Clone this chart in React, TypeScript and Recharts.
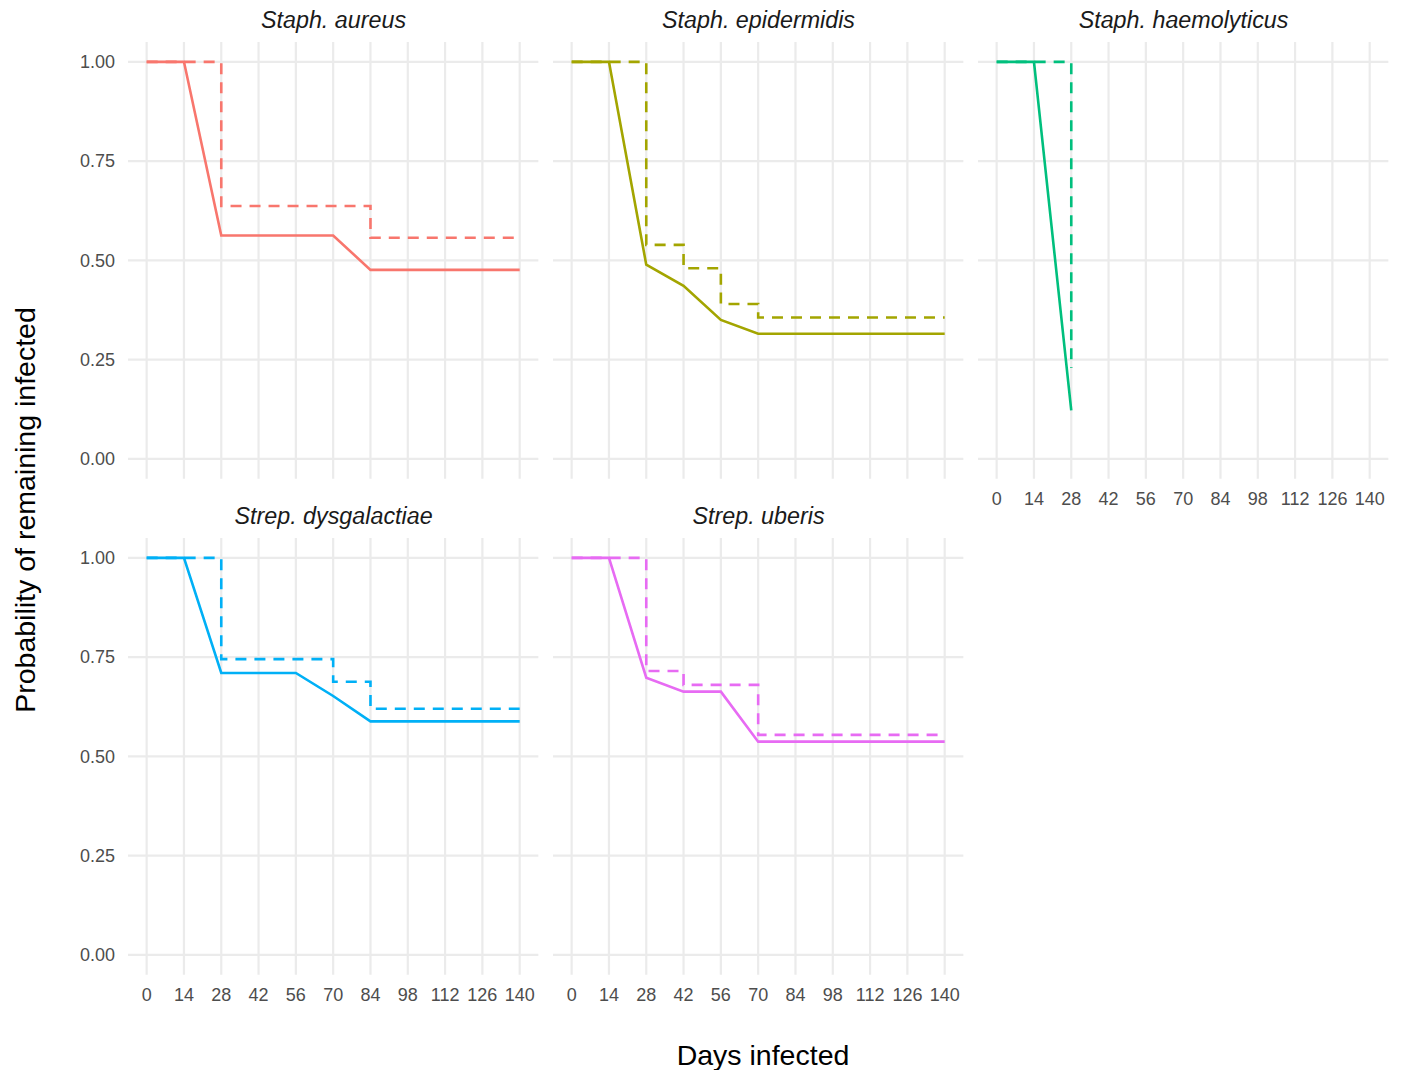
import React from 'react';
import { LineChart, Line, XAxis, YAxis, CartesianGrid } from 'recharts';

// ---- Data ----
const dayTicks = [0, 14, 28, 42, 56, 70, 84, 98, 112, 126, 140];
const probTicks = [0, 0.25, 0.5, 0.75, 1];

const panelNames = ['Staph. aureus', 'Staph. epidermidis', 'Staph. haemolyticus', 'Strep. dysgalactiae', 'Strep. uberis'];
const panelColors = ['#F8766D', '#A3A500', '#00BF7D', '#00B0F6', '#E76BF3'];

// Staph. aureus
const aureusDays = [0, 14, 28, 70, 84, 140];
const aureusSolid = [1, 1, 0.5625, 0.5625, 0.476, 0.476];
const aureusStepDays = [0, 28, 84, 140];
const aureusStep = [1, 0.637, 0.557, 0.557];

// Staph. epidermidis
const epiDays = [0, 14, 28, 42, 56, 70, 140];
const epiSolid = [1, 1, 0.489, 0.436, 0.35, 0.315, 0.315];
const epiStepDays = [0, 28, 42, 56, 70, 140];
const epiStep = [1, 0.539, 0.48, 0.39, 0.356, 0.356];

// Staph. haemolyticus
const haemDays = [0, 14, 28];
const haemSolid = [1, 1, 0.122];
const haemStepDays = [0, 28];
const haemStep = [1, 0.229];

// Strep. dysgalactiae
const dysDays = [0, 14, 28, 56, 70, 84, 140];
const dysSolid = [1, 1, 0.71, 0.71, 0.652, 0.588, 0.588];
const dysStepDays = [0, 28, 70, 84, 140];
const dysStep = [1, 0.745, 0.688, 0.62, 0.62];

// Strep. uberis
const uberDays = [0, 14, 28, 42, 56, 70, 140];
const uberSolid = [1, 1, 0.698, 0.663, 0.663, 0.537, 0.537];
const uberStepDays = [0, 28, 42, 70, 140];
const uberStep = [1, 0.715, 0.68, 0.554, 0.554];

const solidDays = [aureusDays, epiDays, haemDays, dysDays, uberDays];
const solidVals = [aureusSolid, epiSolid, haemSolid, dysSolid, uberSolid];
const stepDays = [aureusStepDays, epiStepDays, haemStepDays, dysStepDays, uberStepDays];
const stepVals = [aureusStep, epiStep, haemStep, dysStep, uberStep];

const toPoints = (days: number[], vals: number[]) => days.map((d, i) => ({ day: d, p: vals[i] }));

// ---- Layout ----
const FONT = '"Liberation Sans", Arial, Helvetica, sans-serif';
const X_DOMAIN: [number, number] = [-7, 147];
const Y_DOMAIN: [number, number] = [-0.05, 1.05];
const PLOT_LEFT = [128.35, 553.35, 978.35];
const PLOT_TOP = [42.15, 538.15];
const PW = 410.35;
const PH = 436.7;
const YW = 80;
const XH = 40;
const GRID = '#EBEBEB';
const TICK_COLOR = '#4D4D4D';

const applyScale = (axis: any, v: number, fallback: number) => {
  const s = axis && axis.scale;
  if (typeof s === 'function') return s(v);
  if (s && typeof s.map === 'function') return s.map(v);
  return fallback;
};

function Panel({ idx }: { idx: number }) {
  const col = idx % 3;
  const row = Math.floor(idx / 3);
  const showY = col === 0;
  const showX = idx >= 2;
  const width = PW + (showY ? YW : 0);
  const height = PH + (showX ? XH : 0);
  const left = PLOT_LEFT[col] - (showY ? YW : 0);
  const top = PLOT_TOP[row];
  const color = panelColors[idx];
  const solid = toPoints(solidDays[idx], solidVals[idx]);
  const step = toPoints(stepDays[idx], stepVals[idx]);
  const vGen = ({ xAxis, offset }: any) =>
    dayTicks.map((t) =>
      applyScale(xAxis, t, offset.left + ((t - X_DOMAIN[0]) / (X_DOMAIN[1] - X_DOMAIN[0])) * offset.width)
    );
  const hGen = ({ yAxis, offset }: any) =>
    probTicks.map((t) =>
      applyScale(yAxis, t, offset.top + ((Y_DOMAIN[1] - t) / (Y_DOMAIN[1] - Y_DOMAIN[0])) * offset.height)
    );
  return (
    <div style={{ position: 'absolute', left, top, width, height }}>
      <LineChart width={width} height={height} margin={{ top: 0, right: 0, bottom: 0, left: 0 }}>
        <CartesianGrid
          stroke={GRID}
          strokeWidth={2.2}
          verticalCoordinatesGenerator={vGen}
          horizontalCoordinatesGenerator={hGen}
        />
        <XAxis
          type="number"
          dataKey="day"
          domain={X_DOMAIN}
          ticks={dayTicks}
          interval={0}
          hide={!showX}
          height={XH}
          axisLine={false}
          tickLine={false}
          tickSize={0}
          tickMargin={14}
          tick={{ fill: TICK_COLOR, fontSize: 18, fontFamily: FONT }}
          allowDataOverflow
        />
        <YAxis
          type="number"
          dataKey="p"
          domain={Y_DOMAIN}
          ticks={probTicks}
          interval={0}
          hide={!showY}
          width={YW}
          axisLine={false}
          tickLine={false}
          tickSize={0}
          tickMargin={13}
          tickFormatter={(v: number) => v.toFixed(2)}
          tick={{ fill: TICK_COLOR, fontSize: 18, fontFamily: FONT }}
          allowDataOverflow
        />
        <Line
          data={solid}
          dataKey="p"
          type="linear"
          stroke={color}
          strokeWidth={2.6}
          dot={false}
          activeDot={false}
          isAnimationActive={false}
        />
        <Line
          data={step}
          dataKey="p"
          type="stepAfter"
          stroke={color}
          strokeWidth={2.6}
          strokeDasharray="11 8"
          dot={false}
          activeDot={false}
          isAnimationActive={false}
        />
      </LineChart>
    </div>
  );
}

export default function App() {
  const stripX = PLOT_LEFT.map((l) => l + PW / 2);
  return (
    <div style={{ position: 'absolute', left: 0, top: 0, width: 1401, height: 1070, background: '#fff', fontFamily: FONT }}>
      {panelNames.map((_, i) => (
        <Panel key={i} idx={i} />
      ))}
      <svg width={1401} height={1070} style={{ position: 'absolute', left: 0, top: 0, pointerEvents: 'none' }}>
        {panelNames.map((name, i) => (
          <text
            key={name}
            x={stripX[i % 3]}
            y={i < 3 ? 28 : 524}
            textAnchor="middle"
            fontStyle="italic"
            fontSize={23.3}
            fill="#1A1A1A"
            fontFamily={FONT}
          >
            {name}
          </text>
        ))}
        <text x={763} y={1065} textAnchor="middle" fontSize={28.5} fill="#000" fontFamily={FONT}>
          Days infected
        </text>
        <text transform="translate(35,510) rotate(-90)" textAnchor="middle" fontSize={28.5} fill="#000" fontFamily={FONT}>
          Probability of remaining infected
        </text>
      </svg>
    </div>
  );
}
